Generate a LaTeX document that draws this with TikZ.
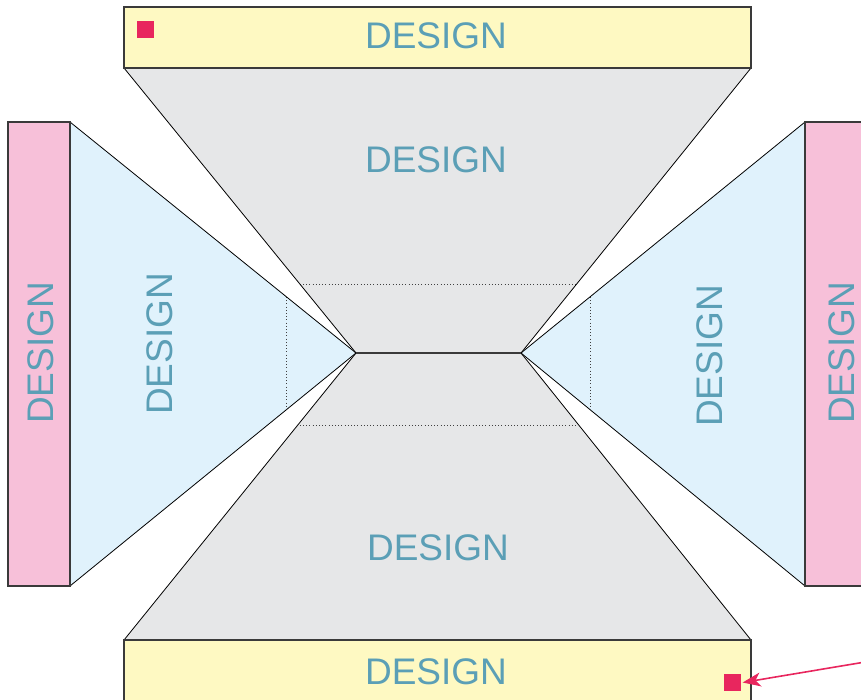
\documentclass[tikz,border=0pt]{standalone}
\usepackage{fontspec}
\setmainfont{Liberation Sans}
\usetikzlibrary{arrows.meta}
\definecolor{boxyellow}{HTML}{FEF9C2}
\definecolor{boxpink}{HTML}{F7C0D9}
\definecolor{sideblue}{HTML}{E0F2FC}
\definecolor{midgrey}{HTML}{E6E7E8}
\definecolor{labelblue}{HTML}{5B9FB6}
\definecolor{markred}{HTML}{E8265E}
\definecolor{edgedark}{HTML}{3A3A3A}
\tikzset{
  outerbox/.style={draw=edgedark,line width=1.3pt},
  edge/.style={draw=black,line width=0.8pt},
  dotline/.style={draw=black!75,line width=0.9pt,dash pattern=on 1pt off 2.2pt},
  lbl/.style={text=labelblue,font=\fontsize{37}{40}\selectfont,inner sep=0pt},
  marker/.style={fill=markred,draw=none},
}
\begin{document}
\begin{tikzpicture}[x=1pt,y=-1pt]
\useasboundingbox (0,0) rectangle (861,700);
\clip (0,0) rectangle (861,700);
% vertices
\coordinate (TL) at (124,68);
\coordinate (TR) at (751,68);
\coordinate (BL) at (124,640);
\coordinate (BR) at (751,640);
\coordinate (LT) at (70,122);
\coordinate (LB) at (70,586);
\coordinate (RT) at (805,122);
\coordinate (RB) at (805,586);
\coordinate (CL) at (356,353);
\coordinate (CR) at (521,353);
% fills
\fill[midgrey] (TL) -- (TR) -- (CR) -- (CL) -- cycle;
\fill[midgrey] (BL) -- (BR) -- (CR) -- (CL) -- cycle;
\fill[sideblue] (LT) -- (CL) -- (LB) -- cycle;
\fill[sideblue] (RT) -- (CR) -- (RB) -- cycle;
% dotted guide lines
\draw[dotline] (299.8,284) -- (577,284);
\draw[dotline] (299.8,425) -- (577,425);
\draw[dotline] (286,297) -- (286,408);
\draw[dotline] (590.5,297) -- (590.5,408);
% edges
\draw[edge] (TL) -- (CL) (TR) -- (CR) (BL) -- (CL) (BR) -- (CR);
\draw[edge] (LT) -- (CL) -- (LB);
\draw[edge] (RT) -- (CR) -- (RB);
\draw[draw=edgedark,line width=1.5pt] (CL) -- (CR);
% outer boxes
\draw[outerbox,fill=boxyellow] (124,7) rectangle (751,68);
\draw[outerbox,fill=boxyellow] (124,640) rectangle (751,712);
\draw[outerbox,fill=boxpink] (8,122) rectangle (70,586);
\draw[outerbox,fill=boxpink] (805,122) rectangle (875,586);
% labels
\node[lbl] (ttop) at (436,36) {DESIGN};
\node[lbl] (tgreytop) at (436,160) {DESIGN};
\node[lbl] (tgreybot) at (438,548) {DESIGN};
\node[lbl] (tbot) at (436,672) {DESIGN};
\node[lbl,rotate=90] (tlpink) at (41,353) {DESIGN};
\node[lbl,rotate=90] (tlblue) at (160,344) {DESIGN};
\node[lbl,rotate=90] (trblue) at (710,356) {DESIGN};
\node[lbl,rotate=90] (trpink) at (842,353) {DESIGN};
% markers
\node[marker,minimum size=17pt,inner sep=0pt] (mtop) at (145.5,29.5) {};
\node[marker,minimum size=17pt,inner sep=0pt] (mbot) at (732.5,682.5) {};
\coordinate (arrstart) at (880,659.5);
\draw[markred,line width=1.6pt,-{Stealth[length=18pt,width=14pt,inset=5pt]}] (arrstart) -- ([xshift=1.5pt]mbot.east);
\end{tikzpicture}
\end{document}
